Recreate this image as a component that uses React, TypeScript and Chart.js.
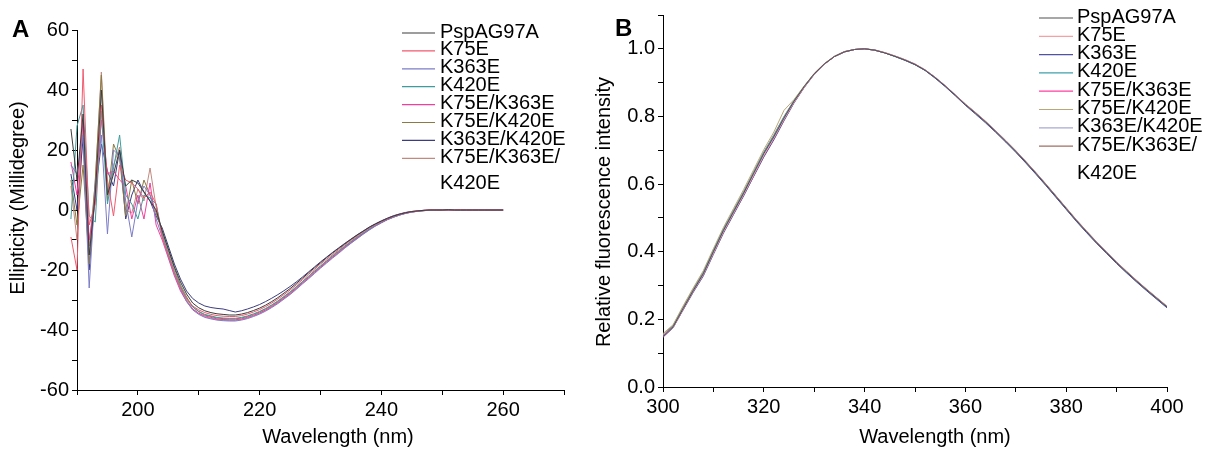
import React, { useEffect, useRef } from 'react';
import { Chart, registerables } from 'chart.js';

Chart.register(...registerables);

const FONT = '"Liberation Sans", Arial, Helvetica, sans-serif';

// ---------- shared ----------
const seriesNames = [
  'PspAG97A',
  'K75E',
  'K363E',
  'K420E',
  'K75E/K363E',
  'K75E/K420E',
  'K363E/K420E',
  'K75E/K363E/K420E',
];

// ---------- Panel A: CD spectra ----------
const cdColors = ['#3c3c3c', '#f05a6e', '#7c7cc8', '#3f9c9c', '#f0409c', '#8a7a44', '#3c3c80', '#c08a80'];
const cdStart = 189; // nm, 1 nm step
const cdXTicks = [200, 220, 240, 260];
const cdYTicks = [-60, -40, -20, 0, 20, 40, 60];

const cdPsp = [27, 10, 32, -15, 5, 40, 5, 12, 20, 8, 10, 9, 6, 3, 0,
  -7, -13, -19, -24, -28, -31, -32.6, -33.6, -34.2, -34.6, -34.8, -35, -35, -34.7, -34.2, -33.5, -32.7, -31.7, -30.5, -29.2,
  -27.7, -26.2, -24.5, -22.8, -21, -19.3, -17.6, -15.9, -14.3, -12.8, -11.3, -9.8, -8.4, -7.1, -5.8, -4.7, -3.7, -2.8, -2, -1.4,
  -0.9, -0.5, -0.3, -0.1, 0, 0, 0, 0.1, 0, 0, 0, 0, 0, 0, 0, 0, 0];
const cdK75 = [-9, -20, 47, -5, 2, 35, 10, -2, 15, 10, 9, 7, 4, 6, 2,
  -9, -15, -21, -26, -29.5, -32, -33.3, -34.2, -34.8, -35.2, -35.4, -35.5, -35.5, -35.2, -34.7, -34, -33.2, -32.2, -31, -29.7,
  -28.2, -26.7, -25, -23.3, -21.5, -19.8, -18, -16.4, -14.8, -13.2, -11.6, -10.1, -8.7, -7.3, -6, -4.9, -3.9, -2.9, -2.1, -1.4,
  -0.9, -0.5, -0.3, -0.1, 0.1, 0, 0, 0, 0, 0.1, 0, 0, 0, 0, 0, 0, 0];
const cdK363 = [15, 12, 25, -26, 8, 25, -8, 20, 18, 3, -9, 3, 8, 5, -3,
  -9, -15.5, -21.5, -26.5, -30.5, -33.3, -34.8, -35.8, -36.3, -36.7, -36.9, -37, -37, -36.7, -36.2, -35.5, -34.7, -33.7, -32.5, -31.2,
  -29.7, -28.2, -26.5, -24.7, -23, -21.2, -19.4, -17.7, -16, -14.4, -12.7, -11.1, -9.6, -8.1, -6.7, -5.4, -4.3, -3.2, -2.4, -1.7,
  -1.1, -0.7, -0.4, -0.2, -0.1, 0, 0, 0, 0, 0, 0, 0, 0, 0, 0, 0, 0];
const cdK420 = [-3, 28, 35, -2, -4, 33, 2, 14, 25, 5, 2, -3, 5, 4, 2,
  -8, -14.5, -20.5, -25.5, -29.5, -32.3, -33.8, -34.8, -35.3, -35.8, -36, -36.1, -36.1, -35.8, -35.3, -34.6, -33.8, -32.8, -31.6, -30.3,
  -28.8, -27.3, -25.6, -23.9, -22.1, -20.3, -18.6, -16.9, -15.2, -13.6, -12, -10.5, -9, -7.6, -6.3, -5.1, -4.1, -3.1, -2.3, -1.6,
  -1, -0.6, -0.4, -0.2, -0.1, 0, 0, 0, 0, 0, 0, 0, 0, 0, 0, 0, 0];
const cdK75K363 = [16, 5, 30, -10, 3, 30, 12, 13, 10, 8, -3, 5, -3, 9, -5,
  -10, -16, -22, -27, -30.5, -33, -34.4, -35.3, -35.8, -36.3, -36.5, -36.6, -36.6, -36.3, -35.8, -35.1, -34.3, -33.3, -32.1, -30.8,
  -29.3, -27.8, -26.1, -24.3, -22.6, -20.8, -19.1, -17.3, -15.7, -14.1, -12.4, -10.9, -9.4, -7.9, -6.5, -5.3, -4.2, -3.2, -2.3, -1.6,
  -1.1, -0.7, -0.4, -0.2, -0.1, 0, 0, 0, 0, 0, 0, 0, 0, 0, 0, 0, 0];
const cdK75K420 = [10, -5, 15, -18, 10, 45, 3, 22, 17, -2, 10, 2, 10, 5, -1,
  -7, -13.5, -19.5, -25, -29, -32.3, -33.9, -35, -35.5, -36, -36.2, -36.3, -36.3, -36, -35.5, -34.8, -34, -33, -31.8, -30.5,
  -29, -27.5, -25.8, -24, -22.3, -20.5, -18.8, -17.1, -15.4, -13.8, -12.2, -10.6, -9.2, -7.8, -6.4, -5.2, -4.1, -3.1, -2.3, -1.6,
  -1, -0.6, -0.4, -0.2, -0.1, 0, 0, 0, 0, 0, 0, 0, 0, 0, 0, 0, 0];
const cdK363K420 = [12, 0, 24, -20, 6, 22, 13, 8, 20, -3, 5, 10, 6, 3, -2,
  -6, -12, -18, -23, -27, -29.5, -31, -32, -32.5, -32.8, -33, -33.5, -34, -33.6, -33, -32.3, -31.5, -30.5, -29.4, -28.2,
  -26.9, -25.5, -24, -22.4, -20.7, -19, -17.3, -15.7, -14.1, -12.6, -11.1, -9.7, -8.3, -7, -5.7, -4.6, -3.6, -2.7, -1.9, -1.3,
  -0.8, -0.5, -0.3, -0.1, 0, 0, 0, 0, 0, 0, 0, 0, 0, 0, 0, 0, 0];
const cdTriple = [8, -10, 28, -12, 9, 46, 6, 15, 21, 0, -1, 7, 3, 14, 1,
  -8.5, -15, -21, -26, -30, -33, -34.6, -35.6, -36.1, -36.5, -36.7, -36.8, -36.8, -36.5, -36, -35.3, -34.5, -33.5, -32.3, -31,
  -29.5, -28, -26.3, -24.5, -22.8, -21, -19.2, -17.5, -15.8, -14.2, -12.5, -11, -9.5, -8, -6.6, -5.3, -4.2, -3.2, -2.4, -1.7,
  -1.1, -0.7, -0.4, -0.2, -0.1, 0, 0, 0, 0, 0, 0, 0, 0, 0, 0, 0, 0];
const cdSeries = [cdPsp, cdK75, cdK363, cdK420, cdK75K363, cdK75K420, cdK363K420, cdTriple];

// ---------- Panel B: fluorescence ----------
const flColors = ['#505050', '#f4a0a4', '#5252a2', '#3fa0aa', '#ff3fa0', '#b8a878', '#a8a8d2', '#a07060'];
const flStart = 300; // nm, 2 nm step
const flXTicks = [300, 320, 340, 360, 380, 400];
const flYTicks = [0.0, 0.2, 0.4, 0.6, 0.8, 1.0];

const flPsp = [.150, .178, .232, .285, .335, .400, .463, .518, .573, .632, .690, .740, .795, .845, .888, .926, .955, .977, .991, .998, 1.000, .996, .988, .978, .967, .954, .937, .915, .890, .863, .835, .810, .784, .756, .727, .697, .665, .632, .598, .563, .528, .493, .460, .428, .398, .368, .340, .313, .287, .262, .237];
const flK75 = [.152, .176, .230, .283, .332, .396, .459, .514, .569, .627, .685, .736, .791, .842, .886, .925, .954, .977, .991, .998, 1.000, .996, .989, .979, .968, .955, .938, .916, .891, .864, .836, .811, .785, .757, .728, .698, .666, .633, .599, .564, .529, .494, .461, .429, .399, .369, .341, .314, .288, .263, .238];
const flK363 = [.148, .175, .228, .280, .328, .392, .455, .510, .565, .623, .680, .731, .787, .840, .885, .924, .954, .977, .991, .998, 1.000, .996, .988, .978, .966, .953, .936, .913, .888, .861, .833, .807, .781, .753, .724, .694, .662, .629, .595, .560, .525, .490, .457, .425, .395, .365, .337, .310, .284, .259, .234];
const flK420 = [.151, .179, .233, .286, .337, .402, .465, .520, .575, .634, .693, .743, .798, .846, .888, .926, .955, .977, .991, .998, 1.000, .996, .988, .977, .966, .953, .936, .914, .889, .862, .834, .809, .783, .755, .726, .695, .663, .630, .596, .561, .526, .491, .458, .426, .396, .366, .338, .311, .285, .260, .235];
const flK75K363 = [.147, .176, .229, .282, .331, .395, .457, .512, .566, .624, .682, .733, .789, .841, .886, .925, .955, .977, .991, .998, 1.000, .996, .988, .978, .967, .954, .937, .915, .890, .863, .835, .810, .784, .756, .727, .696, .664, .631, .597, .562, .527, .492, .459, .427, .397, .367, .339, .312, .286, .261, .236];
const flK75K420 = [.158, .184, .240, .293, .344, .409, .472, .528, .584, .643, .702, .754, .818, .850, .890, .927, .956, .978, .992, .998, 1.000, .996, .988, .978, .967, .954, .937, .915, .890, .863, .836, .811, .785, .757, .728, .698, .666, .633, .599, .564, .529, .494, .461, .429, .399, .369, .341, .314, .288, .263, .238];
const flK363K420 = [.153, .180, .234, .287, .338, .403, .466, .521, .576, .635, .693, .744, .798, .847, .889, .926, .955, .977, .991, .998, 1.000, .996, .989, .979, .968, .955, .938, .916, .891, .864, .836, .811, .785, .757, .728, .698, .666, .633, .599, .564, .529, .494, .461, .429, .399, .369, .341, .314, .288, .263, .238];
const flTriple = [.156, .182, .237, .290, .340, .405, .468, .523, .578, .637, .695, .746, .800, .848, .889, .927, .956, .978, .992, .998, 1.000, .997, .989, .979, .968, .955, .938, .916, .891, .864, .837, .812, .786, .758, .729, .699, .667, .634, .600, .565, .530, .495, .462, .430, .400, .370, .342, .315, .289, .264, .239];
const flSeries = [flPsp, flK75, flK363, flK420, flK75K363, flK75K420, flK363K420, flTriple];

// ---------- plugins ----------
const legendPlugin = {
  id: 'customLegend',
  afterDatasetsDraw(chart: any, _args: any, opts: any) {
    const { ctx } = chart;
    ctx.save();
    ctx.font = `${opts.fontSize}px ${FONT}`;
    ctx.textBaseline = 'middle';
    ctx.textAlign = 'left';
    let y = opts.y;
    chart.data.datasets.forEach((ds: any) => {
      ctx.strokeStyle = ds.borderColor;
      ctx.lineWidth = 1.2;
      ctx.beginPath();
      ctx.moveTo(opts.x0, y + 1);
      ctx.lineTo(opts.x1, y + 1);
      ctx.stroke();
      ctx.fillStyle = '#000';
      const label: string = ds.label;
      if (ctx.measureText(label).width > opts.maxWidth) {
        const cut = label.lastIndexOf('/') + 1;
        ctx.fillText(label.slice(0, cut), opts.textX, y);
        y += opts.wrapDy;
        ctx.fillText(label.slice(cut), opts.textX, y);
      } else {
        ctx.fillText(label, opts.textX, y);
      }
      y += opts.dy;
    });
    ctx.restore();
  },
};

const textPlugin = {
  id: 'customText',
  afterDraw(chart: any, _args: any, opts: any) {
    const { ctx } = chart;
    (opts.items || []).forEach((it: any) => {
      ctx.save();
      ctx.font = `${it.bold ? 'bold ' : ''}${it.size}px ${FONT}`;
      ctx.fillStyle = '#000';
      ctx.textAlign = it.align || 'center';
      ctx.textBaseline = it.baseline || 'middle';
      ctx.translate(it.x, it.y);
      if (it.rotate) ctx.rotate(it.rotate);
      ctx.fillText(it.text, 0, 0);
      ctx.restore();
    });
  },
};

function axisCommon(tickSize: number) {
  return {
    border: { display: true, color: '#000', width: 1 },
    grid: { display: true, drawOnChartArea: false, drawTicks: true, tickLength: 5, color: '#000', lineWidth: 1 },
    ticks: { autoSkip: false, maxRotation: 0, padding: 3, color: '#000', font: { family: FONT, size: tickSize } },
  };
}

function buildCd(): any {
  const datasets = seriesNames.map((name, i) => ({
    label: name,
    data: cdSeries[i].map((v, j) => ({ x: cdStart + j, y: v })),
    borderColor: cdColors[i],
    backgroundColor: cdColors[i],
    borderWidth: 1,
    pointRadius: 0,
    tension: 0,
    fill: false,
    clip: false,
  }));
  const xc = axisCommon(20);
  const yc = axisCommon(20);
  return {
    type: 'line',
    data: { datasets },
    options: {
      animation: false,
      responsive: false,
      layout: { padding: { left: 0, right: 26, top: 30, bottom: 0 } },
      plugins: {
        legend: { display: false },
        tooltip: { enabled: false },
        customLegend: { x0: 402, x1: 435, textX: 440, y: 32, dy: 17.9, wrapDy: 26, fontSize: 20, maxWidth: 150 },
        customText: {
          items: [
            { text: 'A', x: 12, y: 37, size: 24, bold: true, align: 'left', baseline: 'alphabetic' },
            { text: 'Ellipticity (Millidegree)', x: 18, y: 198, size: 20, rotate: -Math.PI / 2 },
            { text: 'Wavelength (nm)', x: 338, y: 437, size: 20 },
          ],
        },
      },
      scales: {
        x: {
          type: 'linear', min: 190, max: 270,
          afterFit: (s: any) => { s.height = 60; },
          ...xc,
          ticks: { ...xc.ticks, stepSize: 10, callback: (v: number) => (cdXTicks.includes(v) ? String(v) : '') },
        },
        y: {
          type: 'linear', min: -60, max: 60,
          afterFit: (s: any) => { s.width = 77; },
          ...yc,
          ticks: { ...yc.ticks, stepSize: 10, callback: (v: number) => (cdYTicks.includes(v) ? String(v) : '') },
        },
      },
    },
    plugins: [legendPlugin, textPlugin],
  };
}

function buildFl(): any {
  const datasets = seriesNames.map((name, i) => ({
    label: name,
    data: flSeries[i].map((v, j) => ({ x: flStart + 2 * j, y: v })),
    borderColor: flColors[i],
    backgroundColor: flColors[i],
    borderWidth: 1,
    pointRadius: 0,
    tension: 0,
    fill: false,
    clip: false,
  }));
  const xc = axisCommon(20);
  const yc = axisCommon(20);
  return {
    type: 'line',
    data: { datasets },
    options: {
      animation: false,
      responsive: false,
      layout: { padding: { left: 0, right: 50, top: 14, bottom: 0 } },
      plugins: {
        legend: { display: false },
        tooltip: { enabled: false },
        customLegend: { x0: 449, x1: 483, textX: 487, y: 17, dy: 18.3, wrapDy: 28, fontSize: 20, maxWidth: 150 },
        customText: {
          items: [
            { text: 'B', x: 25, y: 36, size: 24, bold: true, align: 'left', baseline: 'alphabetic' },
            { text: 'Relative fluorescence intensity', x: 14, y: 212, size: 20, rotate: -Math.PI / 2 },
            { text: 'Wavelength (nm)', x: 345, y: 437, size: 20 },
          ],
        },
      },
      scales: {
        x: {
          type: 'linear', min: 300, max: 400,
          afterFit: (s: any) => { s.height = 63; },
          ...xc,
          ticks: { ...xc.ticks, stepSize: 10, callback: (v: number) => (flXTicks.includes(v) ? String(v) : '') },
        },
        y: {
          type: 'linear', min: 0, max: 1.1,
          afterFit: (s: any) => { s.width = 73; },
          ...yc,
          ticks: {
            ...yc.ticks, stepSize: 0.1,
            callback: (v: number) => {
              const k = Math.round(v * 10) / 10;
              return flYTicks.some((t) => Math.abs(t - k) < 1e-6) ? k.toFixed(1) : '';
            },
          },
        },
      },
    },
    plugins: [legendPlugin, textPlugin],
  };
}

function Panel({ left, width, build }: { left: number; width: number; build: () => any }) {
  const ref = useRef<HTMLCanvasElement>(null);
  useEffect(() => {
    const chart = new Chart(ref.current as HTMLCanvasElement, build());
    return () => chart.destroy();
  }, []);
  return (
    <canvas
      ref={ref}
      width={width}
      height={450}
      style={{ position: 'absolute', left, top: 0, width, height: 450, display: 'block' }}
    />
  );
}

export default function App() {
  return (
    <div style={{ position: 'fixed', left: 0, top: 0, width: 1217, height: 450, background: '#fff', overflow: 'hidden' }}>
      <Panel left={0} width={590} build={buildCd} />
      <Panel left={590} width={627} build={buildFl} />
    </div>
  );
}
